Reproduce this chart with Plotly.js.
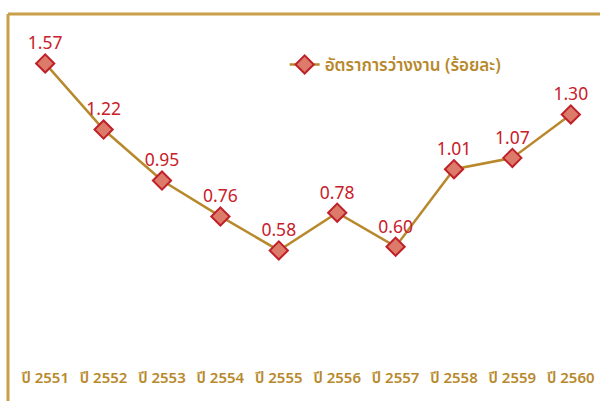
<!DOCTYPE html>
<html><head><meta charset="utf-8">
<script src="https://cdn.plot.ly/plotly-3.0.1.min.js"></script>
<style>html,body{margin:0;padding:0;background:#fff;}#chart{width:600px;height:401px;}</style>
</head><body><div id="chart"></div>
<script>
const years = ["ปี 2551","ปี 2552","ปี 2553","ปี 2554","ปี 2555","ปี 2556","ปี 2557","ปี 2558","ปี 2559","ปี 2560"];
const unemploymentRate = [1.57,1.22,0.95,0.76,0.58,0.78,0.60,1.01,1.07,1.30];
const labels = unemploymentRate.map(v => v.toFixed(2));
const seriesName = "อัตราการว่างงาน (ร้อยละ)";

const gold = "#b8892c";
const fontFam = "Noto Sans Thai, Noto Sans, DejaVu Sans, sans-serif";

const trace = {
  x: years, y: unemploymentRate, type: "scatter", mode: "lines+markers+text",
  name: seriesName, text: labels, textposition: "top center",
  textfont: {color: "#c8202a", size: 17.5, family: fontFam},
  line: {color: gold, width: 2.5},
  marker: {symbol: "diamond", size: 14, color: "#dc7b69", line: {color: "#c0202a", width: 2}},
  cliponaxis: false
};

const layout = {
  width: 600, height: 401,
  margin: {l: 16, r: 0, t: 20, b: 41},
  paper_bgcolor: "#fff", plot_bgcolor: "#fff",
  showlegend: true,
  legend: {x: 0.46, y: 0.868, xanchor: "left", yanchor: "middle", itemwidth: 30,
    font: {color: gold, size: 17, family: fontFam, weight: 600}, bgcolor: "rgba(0,0,0,0)"},
  xaxis: {type: "category", range: [-0.5, 9.5], showgrid: false, zeroline: false, showline: false,
    ticks: "", ticklabelstandoff: 7, tickfont: {color: gold, size: 15, family: fontFam, weight: 600}},
  yaxis: {range: [0, 1.8], visible: false, showgrid: false, zeroline: false},
  shapes: [
    {type: "line", xref: "paper", yref: "paper", x0: -0.0137, x1: 1.01, y0: 1.0176, y1: 1.0176,
     line: {color: "#c9a04a", width: 3}},
    {type: "line", xref: "paper", yref: "paper", x0: -0.0137, x1: -0.0137, y0: 1.0176, y1: -0.13,
     line: {color: "#c9a04a", width: 3}}
  ]
};
Plotly.newPlot("chart", [trace], layout, {displayModeBar: false, staticPlot: true});
</script></body></html>
